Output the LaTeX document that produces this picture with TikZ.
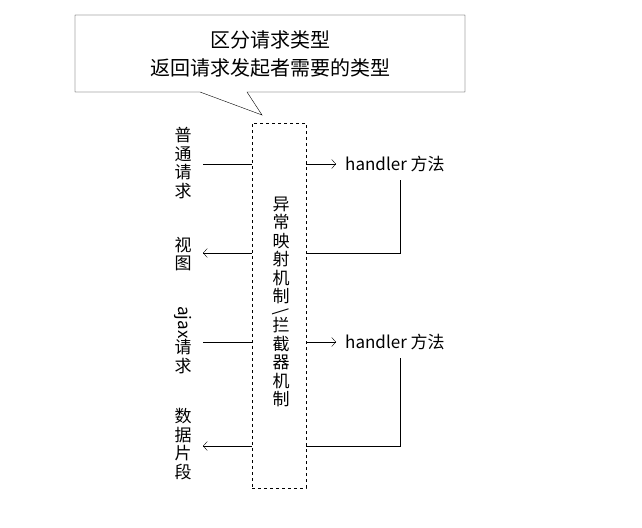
\documentclass[tikz,border=0pt]{standalone}
\usepackage{fontspec}
\usepackage{graphicx}
\setmainfont{Noto Sans CJK SC}
\usetikzlibrary{positioning,arrows.meta}

\tikzset{
	label/.style={align=center, inner sep=0pt, font=\fontsize{17}{18.5}\selectfont},
	flow/.style={-{Straight Barb[length=4pt,width=9pt]}, thin},
	plain/.style={thin}
}

\begin{document}
\begin{tikzpicture}[x=1pt,y=-1pt]
	\useasboundingbox (0,0) rectangle (642,527);
	% callout
	\draw[thin, fill=white] (75,15) -- (465,15) -- (465,92) -- (247,92) -- (262,115) -- (200,92) -- (75,92) -- cycle;
	\node[label, font=\fontsize{20}{28}\selectfont] (note) at (270,54) {区分请求类型\\返回请求发起者需要的类型};
	% mechanism box
	\node[draw, dashed, thin, minimum width=54pt, minimum height=365pt, inner sep=0pt] (mech) at (279,305.5) {};
	\node[label] (mechtxt) at (281,302) {异\\常\\映\\射\\机\\制\\[-4pt]\rotatebox[origin=c]{-90}{\char`\\}\\[-4pt]拦\\截\\器\\机\\制};
	% left labels
	\node[label] (req) at (183,163) {普\\通\\请\\求};
	\node[label] (view) at (183,254) {视\\图};
	\node[label] (ajax) at (183,340) {\rotatebox[origin=c]{-90}{ajax}\\请\\求};
	\node[label] (data) at (183,444) {数\\据\\片\\段};
	% handlers
	\node[label, anchor=west] (hdlA) at (345,164) {handler 方法};
	\node[label, anchor=west] (hdlB) at (345,342) {handler 方法};
	% connector ends
	\coordinate (reqR) at (203,164);
	\coordinate (viewR) at (203,253);
	\coordinate (ajaxR) at (203,342);
	\coordinate (dataR) at (203,446);
	\draw[plain] (reqR) -- (mech.west |- reqR);
	\draw[flow] (mech.east |- reqR) -- ([xshift=-9pt]hdlA.west);
	\draw[plain] (400,180) -- (400,253) -- (mech.east |- viewR);
	\draw[flow] (mech.west |- viewR) -- (viewR);
	\draw[plain] (ajaxR) -- (mech.west |- ajaxR);
	\draw[flow] (mech.east |- ajaxR) -- ([xshift=-9pt]hdlB.west);
	\draw[plain] (400,358) -- (400,446) -- (mech.east |- dataR);
	\draw[flow] (mech.west |- dataR) -- (dataR);
\end{tikzpicture}
\end{document}
